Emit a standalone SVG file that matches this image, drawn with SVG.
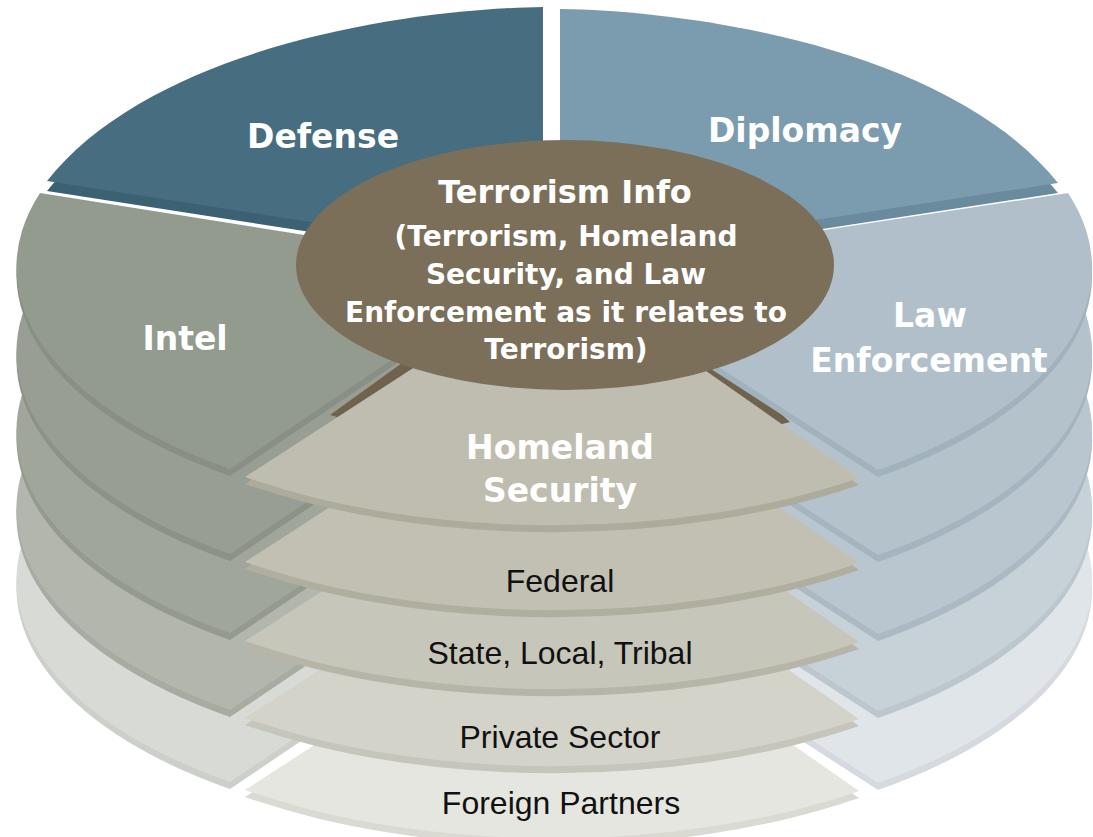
<svg xmlns="http://www.w3.org/2000/svg" width="1093" height="837" viewBox="0 0 1093 837">
<style>
.w{font-family:"DejaVu Sans","Liberation Sans",sans-serif;font-weight:bold;fill:#fff;text-anchor:middle}
.b{font-family:"Liberation Sans","DejaVu Sans",sans-serif;fill:#111;text-anchor:middle;font-size:32px}
</style>
<defs>
<path id="intel" d="M525,270 L40,193 A522,250 0 0 0 230,469 Z"/>
<path id="le" d="M567,269 L1068,193 A522,250 0 0 1 878,470 Z"/>
<path id="hs" d="M563,271 L245,477 A522,250 0 0 0 859,478 Z"/>
<path id="def" d="M543,258 L543,7 C400,9 150,50 47,181 Z"/>
<path id="dip" d="M560,259 L560,9 C703,11 953,52 1058,183 Z"/>
</defs>
<rect width="1093" height="837" fill="#fff"/>

<g id="layer5" transform="translate(0,313)">
  <use href="#intel" y="7" fill="#cdd0ca"/><use href="#intel" fill="#d8dad5"/>
  <use href="#le" y="7" fill="#d4dadf"/><use href="#le" fill="#e0e5e9"/>
  <g id="foreign-partners"><use href="#hs" y="7" fill="#dadad3"/><use href="#hs" fill="#e6e6e1"/></g>
</g>
<g id="layer4" transform="translate(0,241)">
  <use href="#intel" y="7" fill="#a8aba2"/><use href="#intel" fill="#b3b6ad"/>
  <use href="#le" y="7" fill="#bbc6cd"/><use href="#le" fill="#c7d1d8"/>
  <g id="private-sector"><use href="#hs" y="7" fill="#c6c5bb"/><use href="#hs" fill="#d3d3ca"/></g>
</g>
<g id="layer3" transform="translate(0,164)">
  <use href="#intel" y="7" fill="#959a8f"/><use href="#intel" fill="#a1a69b"/>
  <use href="#le" y="7" fill="#acb9c2"/><use href="#le" fill="#b9c6cf"/>
  <g id="state-local-tribal"><use href="#hs" y="7" fill="#b7b5a8"/><use href="#hs" fill="#c7c6ba"/></g>
</g>
<g id="layer2" transform="translate(0,85)">
  <use href="#intel" y="7" fill="#8c9287"/><use href="#intel" fill="#989e93"/>
  <use href="#le" y="7" fill="#a5b4be"/><use href="#le" fill="#b3c2cb"/>
  <g id="federal"><use href="#hs" y="7" fill="#b0ae9f"/><use href="#hs" fill="#c2c0b3"/></g>
</g>

<g id="center-side">
  <path d="M330,415 L420,350 L565,290 L710,350 L790,422 L565,480 Z" fill="#6f634e"/>
</g>

<g id="defense">
  <use href="#def" y="10" fill="#3c6173"/>
  <use href="#def" fill="#466e80"/>
  <text class="w" font-size="33" x="323" y="148">Defense</text>
</g>
<g id="diplomacy">
  <use href="#dip" y="10" fill="#6a8b9d"/>
  <use href="#dip" fill="#7b9cae"/>
  <text class="w" font-size="33" x="805" y="142">Diplomacy</text>
</g>

<g id="intel-node">
  <use href="#intel" y="7" fill="#898f84"/><use href="#intel" fill="#939a8e"/>
  <text class="w" font-size="33" x="185" y="350">Intel</text>
</g>
<g id="law-enforcement">
  <use href="#le" y="7" fill="#a2b2bc"/><use href="#le" fill="#b0bfc9"/>
  <text class="w" font-size="33" x="930" y="327">Law</text>
  <text class="w" font-size="33" x="929" y="372">Enforcement</text>
</g>
<g id="homeland-security">
  <use href="#hs" y="7" fill="#adab9c"/><use href="#hs" fill="#bfbdaf"/>
  <text class="w" font-size="33" x="560" y="459">Homeland</text>
  <text class="w" font-size="33" x="560" y="502">Security</text>
</g>

<g id="layer-labels">
  <text class="b" x="560" y="592">Federal</text>
  <text class="b" x="560" y="664">State, Local, Tribal</text>
  <text class="b" x="560" y="748">Private Sector</text>
  <text class="b" x="561" y="814">Foreign Partners</text>
</g>

<g id="terrorism-info">
  <ellipse cx="565" cy="265" rx="269" ry="125" fill="#7b6f59"/>
  <text class="w" font-size="32" x="565" y="203">Terrorism Info</text>
  <text class="w" font-size="28" x="566" y="246">(Terrorism, Homeland</text>
  <text class="w" font-size="28" x="566" y="284">Security, and Law</text>
  <text class="w" font-size="28" x="566" y="322">Enforcement as it relates to</text>
  <text class="w" font-size="28" x="566" y="359">Terrorism)</text>
</g>
</svg>
